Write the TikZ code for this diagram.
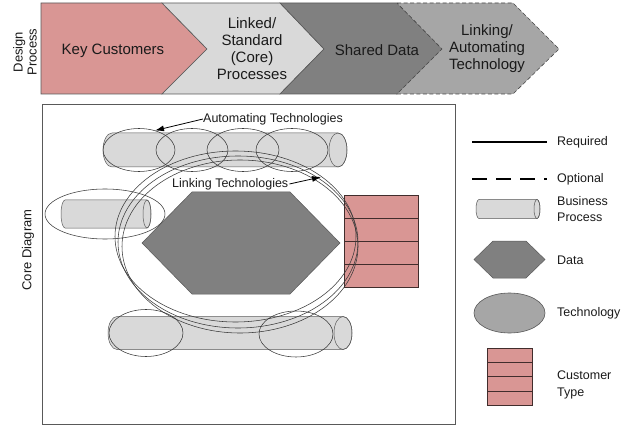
\documentclass[tikz,border=0pt]{standalone}
\usepackage{fontspec}
\setmainfont{Liberation Sans}
\usetikzlibrary{arrows.meta}
\definecolor{pinkc}{HTML}{D99694}
\definecolor{lgray}{HTML}{D9D9D9}
\definecolor{dgray}{HTML}{808080}
\definecolor{mgray}{HTML}{A6A6A6}
\definecolor{edgec}{HTML}{595959}
\definecolor{txtc}{HTML}{1A1A1A}
\definecolor{ringc}{HTML}{3A3A3A}
\tikzset{
  chev/.style={draw=edgec, line width=0.6pt, line join=miter},
  bantext/.style={text=txtc, align=center, font=\fontsize{15}{17}\selectfont, inner sep=0pt},
  sidetext/.style={text=txtc, align=center, rotate=90, font=\fontsize{13}{14}\selectfont, inner sep=0pt},
  labtext/.style={text=txtc, font=\fontsize{12.5}{15}\selectfont, inner sep=0pt},
  legtext/.style={text=txtc, anchor=west, align=left, font=\fontsize{12.5}{16.5}\selectfont, inner sep=0pt},
  cylfill/.style={fill=lgray, draw=edgec, line width=0.5pt},
  ring/.style={draw=ringc, line width=0.55pt},
  datafill/.style={fill=dgray, draw=edgec, line width=0.5pt},
  custfill/.style={fill=pinkc, draw=black!70!pinkc, line width=0.6pt},
  pointer/.style={draw=black, line width=0.8pt, -{Latex[length=9pt,width=6pt]}},
  pics/bproc/.style n args={3}{code={
    \filldraw[cylfill] (#1,-#2) -- (0,-#2)
      arc[start angle=270, end angle=90, x radius=#3, y radius=#2]
      -- (#1,#2)
      arc[start angle=90, end angle=-90, x radius=#3, y radius=#2] -- cycle;
    \draw[draw=edgec, line width=0.5pt] (#1,0) ellipse[x radius=#3, y radius=#2];
  }}
}
\begin{document}
\begin{tikzpicture}[x=1pt, y=-1pt]
\useasboundingbox (0,0) rectangle (625,428);

% ---------- Design process banner ----------
\filldraw[chev, fill=pinkc] (41,3) -- (162,3) -- (207,49) -- (162,94) -- (41,94) -- cycle;
\filldraw[chev, fill=lgray] (162,3) -- (280,3) -- (324,49) -- (280,94) -- (162,94) -- (207,49) -- cycle;
\filldraw[chev, fill=dgray] (280,3) -- (397,3) -- (442,49) -- (397,94) -- (280,94) -- (324,49) -- cycle;
\filldraw[chev, fill=mgray, dashed, dash pattern=on 4pt off 2.5pt, draw=edgec!80!black] (397,3) -- (513,3) -- (559,49) -- (513,94) -- (397,94) -- (442,49) -- cycle;

\node[bantext] (kc) at (113,51) {Key Customers};
\node[bantext] (lsc) at (252,49) {Linked/\\Standard\\(Core)\\Processes};
\node[bantext] (sd) at (377,50) {Shared Data};
\node[bantext] (lat) at (487,49) {Linking/\\Automating\\Technology};

\node[sidetext] (dp) at (25,52) {Design\\Process};

% ---------- Core diagram frame ----------
\draw[draw=edgec, line width=0.9pt] (42,104) rectangle (455,424);
\node[sidetext] (cd) at (28,250) {Core Diagram};

% business processes (cylinders)
\pic at (112,150) {bproc={226}{17}{9}};
\pic at (117,333) {bproc={226}{16.5}{9}};
\pic at (65,214) {bproc={82}{14}{4}};

% data
\filldraw[datafill] (192,192) -- (290,192) -- (340,243) -- (290,294) -- (192,294) -- (142,243) -- cycle;

% customer type
\filldraw[custfill] (344,195) rectangle (418,287);
\draw[custfill, fill=none] (344,218) -- (418,218) (344,241) -- (418,241) (344,264) -- (418,264);

% automating technologies on top process
\draw[ring] (139,150) ellipse[x radius=36, y radius=21.5];
\draw[ring] (192,150) ellipse[x radius=36, y radius=21.5];
\draw[ring] (243,150) ellipse[x radius=36, y radius=21.5];
\draw[ring] (292,150) ellipse[x radius=36, y radius=21.5];

% bottom process technologies
\draw[ring] (146,333) ellipse[x radius=37, y radius=23.5];
\draw[ring] (296,334) ellipse[x radius=37, y radius=23];

% left process technology
\draw[ring] (105,214) ellipse[x radius=60, y radius=25];

% linking technologies
\draw[ring] (235.5,236.5) ellipse[x radius=120.5, y radius=85.5];
\draw[ring] (238,242) ellipse[x radius=120, y radius=86];
\draw[ring] (240,246.5) ellipse[x radius=118, y radius=86.5];

% labels with pointers
\node[labtext, anchor=west] (at) at (203,119) {Automating Technologies};
\coordinate (atTip) at (155,130.5);
\draw[pointer] (at.west) -- (atTip);

\node[labtext, anchor=west] (lt) at (172,184) {Linking Technologies};
\coordinate (ltTip) at (321,177);
\draw[pointer] (lt.east) ++(1,0) coordinate (ltTail) (ltTail) -- (ltTip);

% ---------- Legend ----------
\coordinate (reqA) at (472,142);
\coordinate (reqB) at (547,142);
\draw[black, line width=1.2pt] (reqA) -- (reqB);
\node[legtext] (req) at (557,142) {Required};

\coordinate (optA) at (472,179);
\coordinate (optB) at (547,179);
\draw[black, line width=1.2pt, dash pattern=on 15pt off 9pt] (optA) -- (optB);
\node[legtext] (opt) at (557,179) {Optional};

\pic at (479,209) {bproc={58}{9.5}{3}};
\node[legtext] (bp) at (557,209) {Business\\Process};

\filldraw[datafill] (493,241) -- (526,241) -- (545,259.5) -- (526,278) -- (493,278) -- (474,259.5) -- cycle;
\node[legtext] (dt) at (557,260) {Data};

\filldraw[fill=mgray, draw=edgec, line width=0.6pt] (509.5,313) ellipse[x radius=35.5, y radius=20];
\node[legtext] (tc) at (557,313) {Technology};

\filldraw[custfill] (487,348) rectangle (532,405);
\draw[custfill, fill=none] (487,362.5) -- (532,362.5) (487,376.5) -- (532,376.5) (487,391) -- (532,391);
\node[legtext] (ct) at (557,385) {Customer\\Type};
\end{tikzpicture}
\end{document}
